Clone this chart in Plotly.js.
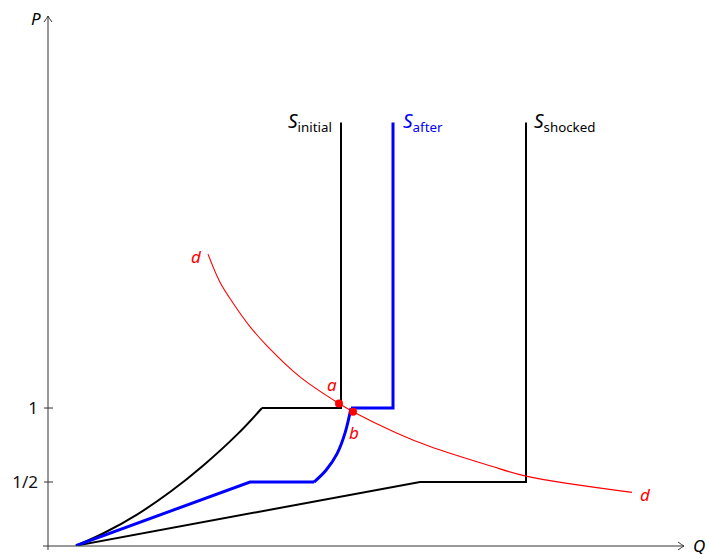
<!DOCTYPE html>
<html>
<head>
<meta charset="utf-8">
<script src="https://cdn.plot.ly/plotly-3.0.1.min.js"></script>
<style>html,body{margin:0;padding:0;background:#fff;}#chart{width:709px;height:554px;}</style>
</head>
<body>
<div id="chart"></div>
<script>
// ---- data (Q, P) ----
// S_initial: curved rising part, then flat at P=1, then vertical
const sInitialCurveQ = [0, 0.27, 0.61, 0.94, 1.27, 1.61, 1.86];
const sInitialCurveP = [0.07, 0.152, 0.28, 0.432, 0.61, 0.82, 1.0];
const sInitialStepQ = [1.86, 2.65, 2.65];
const sInitialStepP = [1.0, 1.0, 2.93];

// S_after (blue)
const sAfterLineQ = [0, 1.74, 2.38];
const sAfterLineP = [0.07, 0.5, 0.5];
const sAfterCurveQ = [2.38, 2.50, 2.61, 2.69, 2.75];
const sAfterCurveP = [0.5, 0.58, 0.69, 0.83, 1.0];
const sAfterStepQ = [2.75, 3.17, 3.17];
const sAfterStepP = [1.0, 1.0, 2.93];

// S_shocked
const sShockedQ = [0, 3.44, 4.50, 4.50];
const sShockedP = [0.07, 0.5, 0.5, 2.93];

// demand d (red)
const demandQ = [1.32, 1.44, 1.57, 1.74, 1.91, 2.24, 2.63, 2.77, 3.21, 3.54, 4.14, 4.50, 5.56];
const demandP = [2.04, 1.85, 1.71, 1.55, 1.42, 1.21, 1.03, 0.975, 0.83, 0.74, 0.61, 0.54, 0.43];

// equilibrium points
const pointNames = ['a', 'b'];
const pointQ = [2.63, 2.77];
const pointP = [1.03, 0.975];

// y-axis ticks
const tickVals = [0.5, 1];
const tickText = ['1/2', '1'];

// axis ranges
const qRange = [-0.28, 6.08];
const pRange = [0.0676, 3.649];

const FONT = 'Noto Sans, DejaVu Sans, sans-serif';
const BLACK = '#000000', BLUE = '#0000ff', RED = '#ff0000', AXIS = '#333333';

const traces = [
  {x: sInitialCurveQ, y: sInitialCurveP, mode: 'lines', line: {color: BLACK, width: 2, shape: 'spline', smoothing: 1.1}},
  {x: sInitialStepQ, y: sInitialStepP, mode: 'lines', line: {color: BLACK, width: 2}},
  {x: sShockedQ, y: sShockedP, mode: 'lines', line: {color: BLACK, width: 2}},
  {x: demandQ, y: demandP, mode: 'lines', line: {color: RED, width: 1.1, shape: 'spline', smoothing: 1}},
  {x: sAfterLineQ, y: sAfterLineP, mode: 'lines', line: {color: BLUE, width: 3}},
  {x: sAfterCurveQ, y: sAfterCurveP, mode: 'lines', line: {color: BLUE, width: 3, shape: 'spline', smoothing: 1}},
  {x: sAfterStepQ, y: sAfterStepP, mode: 'lines', line: {color: BLUE, width: 3}},
  {x: pointQ, y: pointP, mode: 'markers', marker: {color: RED, size: 8}}
];

const W = 636, H = 530; // plot area px
const shapes = [
  // y axis
  {type: 'line', xref: 'paper', yref: 'paper', x0: 0, x1: 0, y0: -4 / H, y1: 1, line: {color: AXIS, width: 1}},
  {type: 'path', xref: 'paper', yref: 'paper',
   path: `M ${-4 / W} ${1 - 6 / H} Q ${-1 / W} ${1 - 2 / H} 0 1 Q ${1 / W} ${1 - 2 / H} ${4 / W} ${1 - 6 / H}`,
   line: {color: AXIS, width: 1}},
  // x axis
  {type: 'line', xref: 'paper', yref: 'paper', x0: -5 / W, x1: 1, y0: 0, y1: 0, line: {color: AXIS, width: 1}},
  {type: 'path', xref: 'paper', yref: 'paper',
   path: `M ${1 - 6 / W} ${4 / H} Q ${1 - 2 / W} ${1 / H} 1 0 Q ${1 - 2 / W} ${-1 / H} ${1 - 6 / W} ${-4 / H}`,
   line: {color: AXIS, width: 1}}
];
tickVals.forEach(v => shapes.push({type: 'line', xref: 'paper', yref: 'y', x0: -4 / W, x1: 5 / W, y0: v, y1: v, line: {color: AXIS, width: 1}}));

const annotations = [
  {x: sInitialStepQ[2], y: sInitialStepP[2], text: '<i>S</i><sub>initial</sub>', xanchor: 'right', yanchor: 'middle', xshift: -7, yshift: 0, font: {size: 19, color: BLACK}},
  {x: sAfterStepQ[2], y: sAfterStepP[2], text: '<i>S</i><sub>after</sub>', xanchor: 'left', yanchor: 'middle', xshift: 8, yshift: 0, font: {size: 19, color: BLUE}},
  {x: sShockedQ[3], y: sShockedP[3], text: '<i>S</i><sub>shocked</sub>', xanchor: 'left', yanchor: 'middle', xshift: 6, yshift: 0, font: {size: 19, color: BLACK}},
  {x: demandQ[0], y: demandP[0], text: '<i>d</i>', xanchor: 'center', yanchor: 'middle', xshift: -12, yshift: -2, font: {size: 17, color: RED}},
  {x: demandQ[demandQ.length - 1], y: demandP[demandP.length - 1], text: '<i>d</i>', xanchor: 'center', yanchor: 'middle', xshift: 13, yshift: -2, font: {size: 17, color: RED}},
  {x: pointQ[0], y: pointP[0], text: '<i>' + pointNames[0] + '</i>', xanchor: 'center', yanchor: 'middle', xshift: -7, yshift: 19, font: {size: 17, color: RED}},
  {x: pointQ[1], y: pointP[1], text: '<i>' + pointNames[1] + '</i>', xanchor: 'center', yanchor: 'middle', xshift: 1, yshift: -21, font: {size: 17, color: RED}},
  {xref: 'paper', yref: 'paper', x: 0, y: 1, text: '<i>P</i>', xanchor: 'center', yanchor: 'middle', xshift: -12, yshift: -2, font: {size: 17, color: BLACK}},
  {xref: 'paper', yref: 'paper', x: 1, y: 0, text: '<i>Q</i>', xanchor: 'center', yanchor: 'middle', xshift: 15, yshift: 1, font: {size: 17, color: BLACK}}
].map(a => Object.assign({showarrow: false}, a));

const layout = {
  width: 709, height: 554,
  margin: {l: 48, r: 25, t: 16, b: 8, pad: 0},
  paper_bgcolor: '#ffffff', plot_bgcolor: '#ffffff',
  showlegend: false,
  font: {family: FONT, size: 16, color: BLACK},
  xaxis: {range: qRange, showgrid: false, zeroline: false, showline: false, showticklabels: false, ticks: ''},
  yaxis: {range: pRange, showgrid: false, zeroline: false, showline: false,
          tickvals: tickVals, ticktext: tickText, ticks: '', ticklabelstandoff: 9,
          tickfont: {family: FONT, size: 17, color: '#111111'}},
  shapes: shapes,
  annotations: annotations
};

Plotly.newPlot('chart', traces, layout, {staticPlot: true, displayModeBar: false});
</script>
</body>
</html>
